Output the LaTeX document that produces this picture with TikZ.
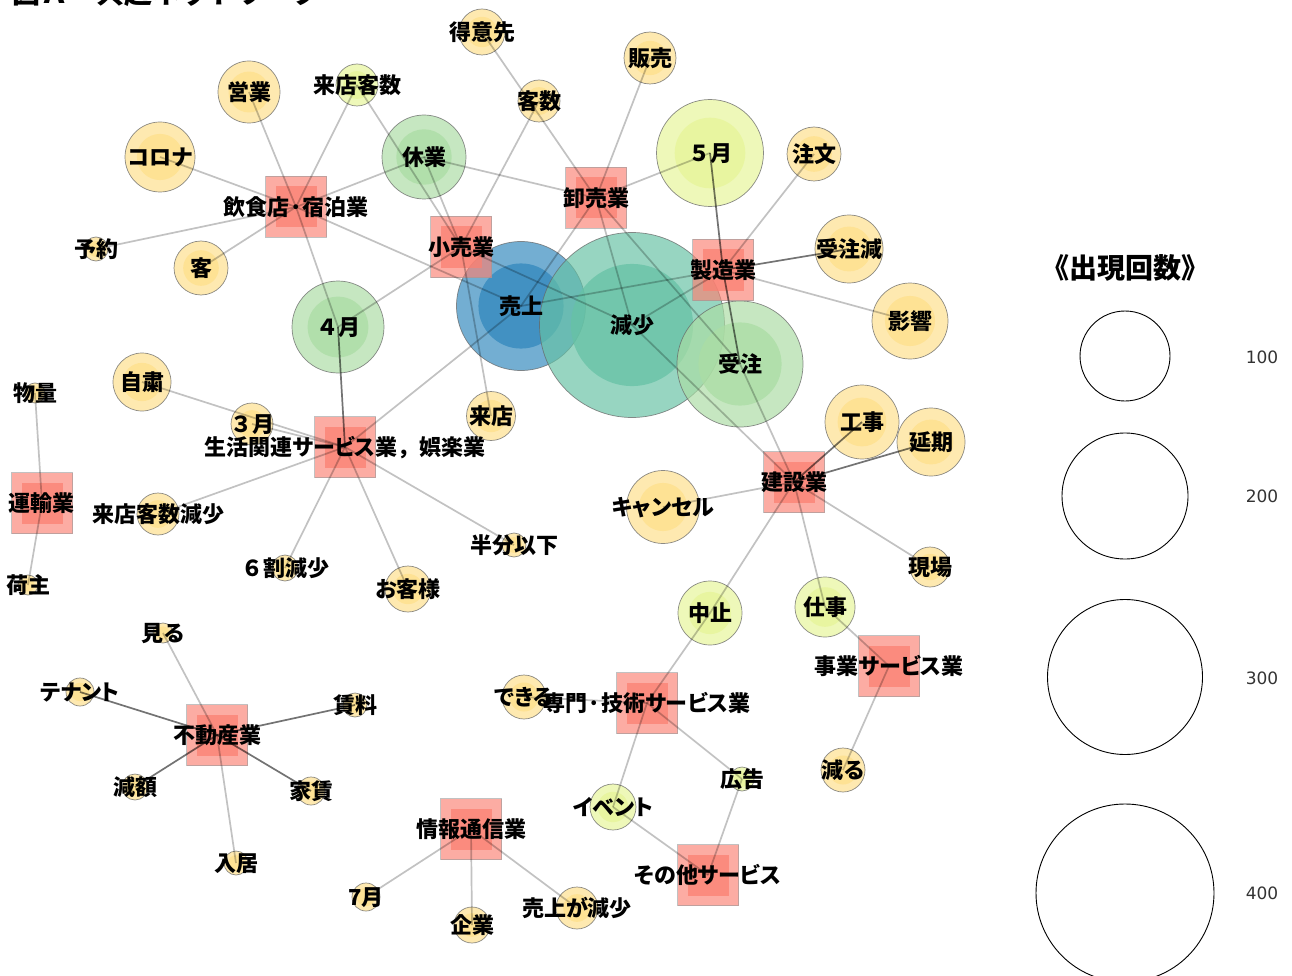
\documentclass[tikz,border=0pt]{standalone}
\usepackage{fontspec}
\newfontfamily\jp[RawFeature=+palt]{Noto Sans CJK JP}
\newfontfamily\jpfull{Noto Sans CJK JP}
\newfontfamily\numfont{DejaVu Sans}
\definecolor{cY}{HTML}{FEE08B}
\definecolor{cG}{HTML}{E6F598}
\definecolor{cL}{HTML}{ABDDA4}
\definecolor{cT}{HTML}{66C2A5}
\definecolor{cB}{HTML}{3288BD}
\definecolor{cR}{HTML}{FB8072}
\tikzset{
 wordc/.style={circle, inner sep=0pt, draw=black!60, line width=0.7pt, fill opacity=0.68, draw opacity=0.75},
 wordin/.style={circle, inner sep=0pt, fill opacity=0.75},
 indsq/.style={rectangle, inner sep=0pt, minimum size=61pt, fill=cR, fill opacity=0.65, draw=black!40, line width=0.6pt, draw opacity=0.6},
 indin/.style={rectangle, inner sep=0pt, minimum size=41pt, fill=cR, fill opacity=0.75},
 lk/.style={draw=black, draw opacity=0.24, line width=1.7pt},
 lkd/.style={draw=black, draw opacity=0.55, line width=1.7pt},
 lbl/.style={font=\jp\bfseries\fontsize{22}{22}\selectfont, inner sep=0pt, text height=19.4pt, text depth=2.6pt},
 legc/.style={circle, inner sep=0pt, draw=black, line width=0.9pt},
 legnum/.style={font=\numfont\fontsize{17}{18}\selectfont, text=black!80, inner sep=0pt},
 legtitle/.style={font=\jpfull\bfseries\fontsize{28}{29}\selectfont, inner sep=0pt},
 titletext/.style={font=\jpfull\bfseries\fontsize{28}{30}\selectfont, inner sep=0pt, anchor=base west}
}
\newcommand\mkword[5]{%
  \node[wordc, fill=#5, minimum size=#4*2pt] (#1) at (#2,#3) {};
  \node[wordin, fill=#5, minimum size=#4*1.32pt] at (#1.center) {};}
\newcommand\mkind[3]{%
  \node[indsq] (#1) at (#2,#3) {};
  \node[indin] at (#1.center) {};}
\begin{document}
\begin{tikzpicture}[x=1pt,y=-1pt]
\useasboundingbox (0,0) rectangle (1292,976);
\clip (0,0) rectangle (1292,976);
\fill[white] (0,0) rectangle (1292,976);
\node[titletext] (title) at (12,3.5) {図Ａ　共起ネットワーク};
% word nodes
\mkword{tokui}{482}{32}{23}{cY}
\mkword{hanbai}{650}{58}{26}{cY}
\mkword{kyakusu}{539}{101}{21}{cY}
\mkword{eigyo}{249}{92}{31}{cY}
\mkword{raitenks}{357}{85}{21}{cG}
\mkword{corona}{160}{157}{35}{cY}
\mkword{kyugyo}{424}{157}{42}{cL}
\mkword{may}{710}{153}{53.5}{cG}
\mkword{chumon}{814}{154}{27}{cY}
\mkword{yoyaku}{96}{249}{12}{cY}
\mkword{kyaku}{201}{268}{27}{cY}
\mkword{juchugen}{849}{249}{34}{cY}
\mkword{eikyo}{910}{321}{38}{cY}
\mkword{apr}{338}{327}{46}{cL}
\mkword{uriage}{521}{306}{64.5}{cB}
\mkword{gensho}{632}{325}{92.5}{cT}
\mkword{juchu}{740}{364}{63}{cL}
\mkword{butsuryo}{35}{393}{10}{cY}
\mkword{jishuku}{142}{382}{29}{cY}
\mkword{mar}{252}{424}{21}{cY}
\mkword{raiten}{491}{416}{24.5}{cY}
\mkword{koji}{862}{422}{37}{cY}
\mkword{enki}{931}{442}{34}{cY}
\mkword{cancel}{663}{507}{36.5}{cY}
\mkword{raitengen}{158}{514}{21}{cY}
\mkword{hanbun}{514}{545}{12}{cY}
\mkword{rokuwari}{285}{568}{13}{cY}
\mkword{okyaku}{408}{589}{23}{cY}
\mkword{genba}{930}{567}{20}{cY}
\mkword{ninushi}{28}{585}{10}{cY}
\mkword{chushi}{710}{613}{32}{cG}
\mkword{shigoto}{825}{607}{30}{cG}
\mkword{miru}{163}{633}{10}{cY}
\mkword{tenant}{80}{692}{14}{cY}
\mkword{chinryo}{355}{705}{12}{cY}
\mkword{dekiru}{524}{697}{22}{cY}
\mkword{gengaku}{135}{787}{13}{cY}
\mkword{yachin}{311}{791}{14}{cY}
\mkword{kokoku}{742}{779}{12}{cG}
\mkword{heru}{843}{770}{22}{cY}
\mkword{event}{613}{807}{23}{cG}
\mkword{nyukyo}{236}{863}{12}{cY}
\mkword{jul}{366}{897}{14}{cY}
\mkword{kigyo}{472}{925}{18}{cY}
\mkword{urigen}{577}{908}{21}{cY}
% industry nodes
\mkind{inshoku}{296}{207}
\mkind{kouri}{461}{247}
\mkind{oroshi}{596}{198}
\mkind{seizo}{723}{270}
\mkind{seikatsu}{345}{447}
\mkind{unyu}{42}{503}
\mkind{kensetsu}{794}{482}
\mkind{jigyo}{889}{666}
\mkind{senmon}{647}{703}
\mkind{fudosan}{217}{735}
\mkind{joho}{471}{829}
\mkind{sonota}{708}{875}
% edges
\foreach \w in {eigyo,raitenks,corona,kyugyo,yoyaku,kyaku,apr,uriage} \draw[lk] (inshoku.center) -- (\w.center);
\foreach \w in {raitenks,kyugyo,kyakusu,apr,raiten,gensho} \draw[lk] (kouri.center) -- (\w.center);
\foreach \w in {tokui,kyugyo,hanbai,may,uriage,gensho,juchu} \draw[lk] (oroshi.center) -- (\w.center);
\foreach \w in {chumon,eikyo,uriage,gensho} \draw[lk] (seizo.center) -- (\w.center);
\foreach \w in {may,juchugen,juchu} \draw[lkd] (seizo.center) -- (\w.center);
\foreach \w in {jishuku,mar,uriage,raitengen,rokuwari,okyaku,hanbun} \draw[lk] (seikatsu.center) -- (\w.center);
\draw[lkd] (seikatsu.center) -- (apr.center);
\foreach \w in {butsuryo,ninushi} \draw[lk] (unyu.center) -- (\w.center);
\foreach \w in {cancel,genba,chushi,shigoto,juchu,gensho} \draw[lk] (kensetsu.center) -- (\w.center);
\foreach \w in {koji,enki} \draw[lkd] (kensetsu.center) -- (\w.center);
\foreach \w in {shigoto,heru} \draw[lk] (jigyo.center) -- (\w.center);
\foreach \w in {chushi,dekiru,kokoku,event} \draw[lk] (senmon.center) -- (\w.center);
\foreach \w in {event,kokoku} \draw[lk] (sonota.center) -- (\w.center);
\foreach \w in {miru,nyukyo} \draw[lk] (fudosan.center) -- (\w.center);
\foreach \w in {tenant,gengaku,yachin,chinryo} \draw[lkd] (fudosan.center) -- (\w.center);
\foreach \w in {jul,kigyo,urigen} \draw[lk] (joho.center) -- (\w.center);
% labels
\node[lbl] at (tokui) {得意先};
\node[lbl] at (hanbai) {販売};
\node[lbl] at (kyakusu) {客数};
\node[lbl] at (eigyo) {営業};
\node[lbl] at (raitenks) {来店客数};
\node[lbl] at (corona) {コロナ};
\node[lbl] at (kyugyo) {休業};
\node[lbl] at (may) {{\jpfull ５}月};
\node[lbl] at (chumon) {注文};
\node[lbl] at (yoyaku) {予約};
\node[lbl] at (kyaku) {客};
\node[lbl] at (juchugen) {受注減};
\node[lbl] at (eikyo) {影響};
\node[lbl] at (apr) {{\jpfull ４}月};
\node[lbl] at (uriage) {売上};
\node[lbl] at (gensho) {減少};
\node[lbl] at (juchu) {受注};
\node[lbl] at (butsuryo) {物量};
\node[lbl] at (jishuku) {自粛};
\node[lbl] at (mar) {{\jpfull ３}月};
\node[lbl] at (raiten) {来店};
\node[lbl] at (koji) {工事};
\node[lbl] at (enki) {延期};
\node[lbl] at (cancel) {キャンセル};
\node[lbl] at (raitengen) {来店客数減少};
\node[lbl] at (hanbun) {半分以下};
\node[lbl] at (rokuwari) {{\jpfull ６}割減少};
\node[lbl] at (okyaku) {お客様};
\node[lbl] at (genba) {現場};
\node[lbl] at (ninushi) {荷主};
\node[lbl] at (chushi) {中止};
\node[lbl] at (shigoto) {仕事};
\node[lbl] at (miru) {見る};
\node[lbl] at (tenant) {テナント};
\node[lbl] at (chinryo) {賃料};
\node[lbl] at (dekiru) {できる};
\node[lbl] at (gengaku) {減額};
\node[lbl] at (yachin) {家賃};
\node[lbl] at (kokoku) {広告};
\node[lbl] at (heru) {減る};
\node[lbl] at (event) {イベント};
\node[lbl] at (nyukyo) {入居};
\node[lbl] at (jul) {7月};
\node[lbl] at (kigyo) {企業};
\node[lbl] at (urigen) {売上が減少};
\node[lbl] at (inshoku) {飲食店·宿泊業};
\node[lbl] at (kouri) {小売業};
\node[lbl] at (oroshi) {卸売業};
\node[lbl] at (seizo) {製造業};
\node[lbl] at (seikatsu) {生活関連サービス業{\jpfull ，}娯楽業};
\node[lbl] at (unyu) {運輸業};
\node[lbl] at (kensetsu) {建設業};
\node[lbl] at (jigyo) {事業サービス業};
\node[lbl] at (senmon) {専門·技術サービス業};
\node[lbl] at (fudosan) {不動産業};
\node[lbl] at (joho) {情報通信業};
\node[lbl] at (sonota) {その他サービス};
% legend
\node[legtitle] (legt) at (1125,268) {《出現回数》};
\node[legc, minimum size=90pt] (leg1) at (1125,356) {};
\node[legc, minimum size=126pt] (leg2) at (1125,496) {};
\node[legc, minimum size=155pt] (leg3) at (1125,677) {};
\node[legc, minimum size=178pt] (leg4) at (1125,893) {};
\node[legnum] (n1) at (1262,357) {100};
\node[legnum] (n2) at (1262,496) {200};
\node[legnum] (n3) at (1262,678) {300};
\node[legnum] (n4) at (1262,893) {400};
\end{tikzpicture}
\end{document}
